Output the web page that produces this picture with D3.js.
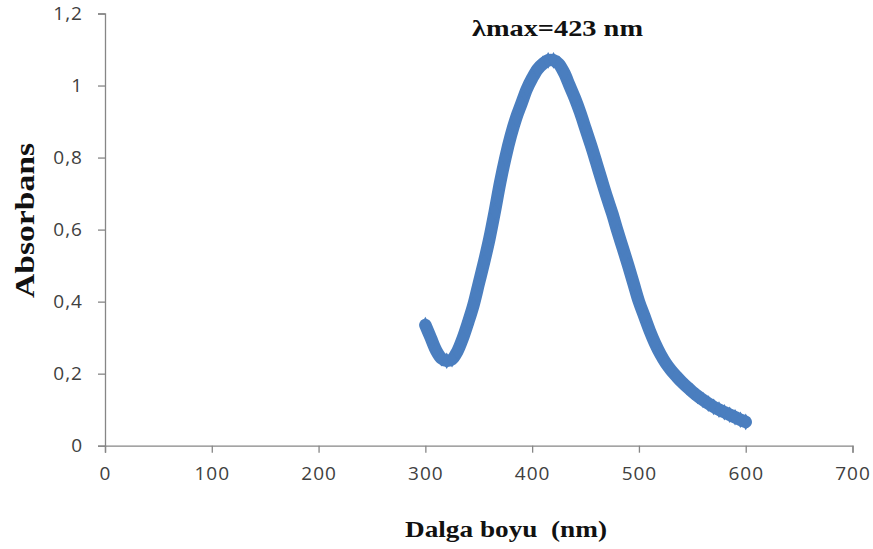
<!DOCTYPE html>
<html>
<head>
<meta charset="utf-8">
<script src="https://cdn.jsdelivr.net/npm/d3@7"></script>
<style>
  html, body { margin: 0; padding: 0; background: #fff; }
  svg { display: block; }
</style>
</head>
<body>
<svg id="chart" width="873" height="549"></svg>
<script>
// Wavelength (nm) and absorbance
const wavelengths = [300,305,310,315,320,325,330,335,340,345,350,355,360,365,370,375,380,385,390,395,
  400,405,410,415,420,425,430,435,440,445,450,455,460,465,470,475,480,485,490,495,
  500,505,510,515,520,525,530,535,540,545,550,555,560,565,570,575,580,585,590,595,600];
const absorbance = [0.335,0.30,0.265,0.243,0.236,0.24,0.262,0.298,0.342,0.39,0.45,0.51,0.575,0.65,0.73,0.80,0.86,0.91,0.95,0.99,
  1.02,1.045,1.06,1.07,1.07,1.06,1.035,1.0,0.965,0.925,0.88,0.835,0.787,0.738,0.69,0.645,0.595,0.548,0.50,0.45,
  0.40,0.36,0.32,0.285,0.255,0.23,0.21,0.193,0.177,0.163,0.15,0.138,0.127,0.117,0.108,0.10,0.093,0.086,0.079,0.072,0.066];
const xTicks = [0,100,200,300,400,500,600,700];
const yTicks = [0,0.2,0.4,0.6,0.8,1,1.2];
const xLabel = "Dalga boyu  (nm)";
const yLabel = "Absorbans";
const annotation = "λmax=423 nm";

const svg = d3.select("#chart");
const x = d3.scaleLinear().domain([0,700]).range([105,852.5]);
const y = d3.scaleLinear().domain([0,1.2]).range([445.7,13.5]);
const axisColor = "#868686";
const fmt = d => String(d).replace(".", ",");

// Y axis
const yAxis = svg.append("g").attr("transform", `translate(${x(0)},0)`)
  .call(d3.axisLeft(y).tickValues(yTicks).tickFormat(fmt).tickSize(7).tickPadding(15));
// X axis
const xAxis = svg.append("g").attr("transform", `translate(0,${y(0)})`)
  .call(d3.axisBottom(x).tickValues(xTicks).tickSize(7).tickPadding(14));
[yAxis, xAxis].forEach(g => {
  g.attr("font-size", 19).attr("font-family", "'Open Sans', 'Noto Sans', sans-serif");
  g.select(".domain").attr("stroke", axisColor).attr("stroke-width", 1.3);
  g.selectAll(".tick line").attr("stroke", axisColor).attr("stroke-width", 1.3);
  g.selectAll(".tick text").attr("fill", "#404040").attr("letter-spacing", 1)
    .style("font-family", "'Open Sans', 'Noto Sans', sans-serif").style("font-size", "19px");
});

const data = wavelengths.map((w, i) => ({w, a: absorbance[i]}));
const line = d3.line().x(d => x(d.w)).y(d => y(d.a)).curve(d3.curveCatmullRom);

svg.append("path").datum(data)
  .attr("d", line).attr("fill", "none")
  .attr("stroke", "#4a7ebf").attr("stroke-width", 12.5)
  .attr("stroke-linecap", "round").attr("stroke-linejoin", "round");

svg.append("g").selectAll("path").data(data).enter().append("path")
  .attr("transform", d => `translate(${x(d.w)},${y(d.a)})`)
  .attr("d", d3.symbol().type(d3.symbolDiamond).size(80))
  .attr("fill", "#4a7ebf");

// Labels
const serif = "'Liberation Serif', 'Times New Roman', serif";
svg.append("text").text(annotation)
  .attr("x", 472).attr("y", 36).attr("textLength", 171).attr("lengthAdjust", "spacingAndGlyphs")
  .style("font-family", serif)
  .style("font-weight", "bold").style("font-size", "23px").attr("fill", "#111");

svg.append("text").text(xLabel)
  .attr("x", 405).attr("y", 537).attr("textLength", 202).attr("lengthAdjust", "spacingAndGlyphs")
  .attr("xml:space", "preserve").style("white-space", "pre")
  .style("font-family", serif)
  .style("font-weight", "bold").style("font-size", "24px").attr("fill", "#111");

svg.append("text").text(yLabel)
  .attr("transform", "translate(34,298) rotate(-90)")
  .attr("textLength", 155).attr("lengthAdjust", "spacingAndGlyphs")
  .style("font-family", serif)
  .style("font-weight", "bold").style("font-size", "27px").attr("fill", "#111");
</script>
</body>
</html>
